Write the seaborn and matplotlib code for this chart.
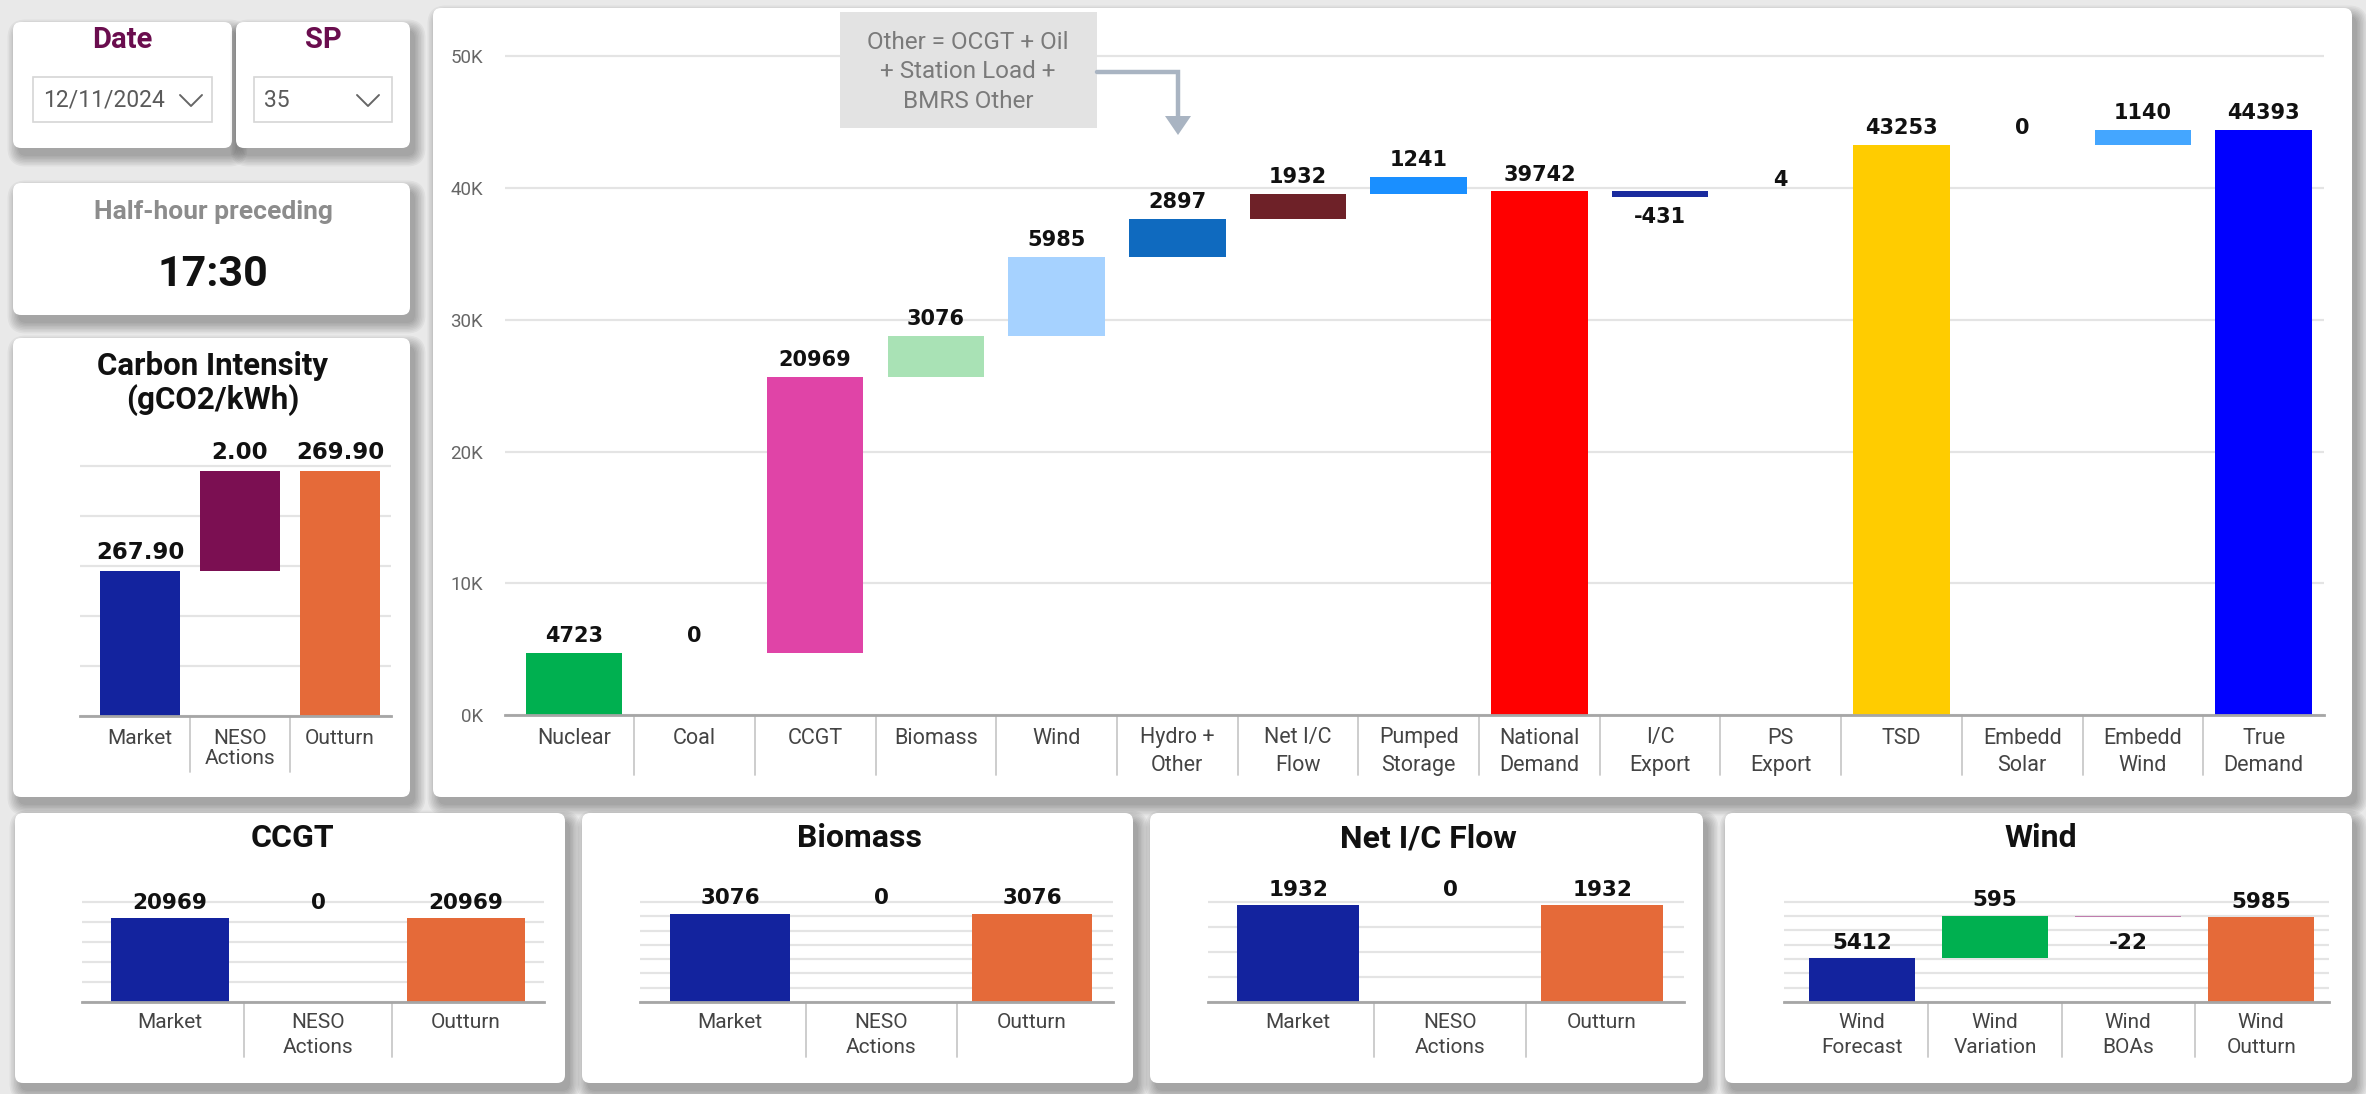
import numpy as np
import pandas as pd
import matplotlib
matplotlib.use("Agg")
import matplotlib.pyplot as plt
import matplotlib.transforms as mtransforms
from matplotlib.patches import FancyBboxPatch, Rectangle, Polygon
import seaborn as sns

sns.set_theme(style="white")
plt.rcParams["font.family"] = ["Roboto", "DejaVu Sans"]

W, H = 2366, 1094
DPI = 100

# ---------------- data ----------------
date_label = "12/11/2024"
sp_label = "35"
half_hour = "17:30"

gen_categories = ["Nuclear", "Coal", "CCGT", "Biomass", "Wind", "Hydro +\nOther",
                  "Net I/C\nFlow", "Pumped\nStorage", "National\nDemand", "I/C\nExport",
                  "PS\nExport", "TSD", "Embedd\nSolar", "Embedd\nWind", "True\nDemand"]
gen_values = [4723, 0, 20969, 3076, 5985, 2897, 1932, 1241, 39742, -431, 4, 43253, 0, 1140, 44393]
gen_is_total = [False, False, False, False, False, False, False, False, True,
                False, False, True, False, False, True]
gen_colors = ["#00b050", "#9e9e9e", "#e044a7", "#a9e2b5", "#a6d2ff", "#0f6abf",
              "#6e2128", "#1a8fff", "#ff0000", "#1a2b9e", "#dfe7f5", "#ffcc00",
              "#ffe066", "#44a6ff", "#0000ff"]

mo_categories = ["Market", "NESO\nActions", "Outturn"]
mo_is_total = [True, False, True]
mo_colors = ["#13239e", "#7b0f52", "#e56a39"]

ci_values = [267.90, 2.00, 269.90]
ccgt_values = [20969, 0, 20969]
biomass_values = [3076, 0, 3076]
ic_values = [1932, 0, 1932]

wind_categories = ["Wind\nForecast", "Wind\nVariation", "Wind\nBOAs", "Wind\nOutturn"]
wind_values = [5412, 595, -22, 5985]
wind_is_total = [True, False, False, True]
wind_colors = ["#13239e", "#00b050", "#c07cae", "#e56a39"]

annotation_lines = "Other = OCGT + Oil\n+ Station Load +\nBMRS Other"

# ---------------- figure ----------------
fig = plt.figure(figsize=(W / DPI, H / DPI), dpi=DPI, facecolor="#e9e9e9")


def px_axes(x0, y0, x1, y1, z):
    ax = fig.add_axes([x0 / W, 1 - y1 / H, (x1 - x0) / W, (y1 - y0) / H])
    ax.set_zorder(z)
    return ax


bg = px_axes(0, 0, W, H, 0)
bg.set_xlim(0, W)
bg.set_ylim(H, 0)
bg.axis("off")

fg = px_axes(0, 0, W, H, 20)
fg.set_xlim(0, W)
fg.set_ylim(H, 0)
fg.axis("off")
fg.patch.set_alpha(0)


def card(x0, y0, x1, y1):
    w, h = x1 - x0, y1 - y0
    for k in range(8):
        p = 1.5 * k
        bg.add_patch(FancyBboxPatch((x0 + 5 - p, y0 + 8 - p), w + 2 * p, h + 2 * p,
                                    boxstyle=f"round,pad=0,rounding_size={8 + p}",
                                    fc="black", ec="none", alpha=0.04))
    bg.add_patch(FancyBboxPatch((x0, y0), w, h, boxstyle="round,pad=0,rounding_size=8",
                                fc="white", ec="none"))


cards = {
    "date": (13, 22, 232, 148),
    "sp": (236, 22, 410, 148),
    "half": (13, 183, 410, 315),
    "carbon": (13, 338, 410, 797),
    "main": (433, 8, 2352, 797),
    "ccgt": (15, 813, 565, 1083),
    "biomass": (582, 813, 1133, 1083),
    "ic": (1150, 813, 1703, 1083),
    "wind": (1725, 813, 2352, 1083),
}
for c in cards.values():
    card(*c)

# ---- slicers ----
title_purple = "#6a0d4e"
bg.text(122, 40, "Date", ha="center", va="center", fontsize=21, fontweight="bold", color=title_purple)
bg.text(323, 40, "SP", ha="center", va="center", fontsize=21, fontweight="bold", color=title_purple)
for (x0, y0, x1, y1), txt, cx in [((33, 77, 212, 122), date_label, 191),
                                 ((254, 77, 392, 122), sp_label, 368)]:
    bg.add_patch(Rectangle((x0, y0), x1 - x0, y1 - y0, fc="white", ec="#d6d6d6", lw=1.2))
    bg.text(x0 + 10, (y0 + y1) / 2 + 1, txt, ha="left", va="center", fontsize=16.5, color="#5a5a5a")
    bg.plot([cx - 11, cx, cx + 11], [95, 106, 95], color="#666666", lw=1.4)

bg.text(213, 212, "Half-hour preceding", ha="center", va="center", fontsize=19,
        fontweight="bold", color="#8c8c8c")
bg.text(213, 275, half_hour, ha="center", va="center", fontsize=31, fontweight="bold", color="#111111")

# ---- panel titles ----
bg.text(213, 366, "Carbon Intensity", ha="center", va="center", fontsize=22.5, fontweight="bold", color="#111111")
bg.text(213, 400, "(gCO2/kWh)", ha="center", va="center", fontsize=22.5, fontweight="bold", color="#111111")
for key, title in [("ccgt", "CCGT"), ("biomass", "Biomass"), ("ic", "Net I/C Flow"), ("wind", "Wind")]:
    x0, y0, x1, y1 = cards[key]
    bg.text((x0 + x1) / 2 + 2, 838, title, ha="center", va="center", fontsize=23,
            fontweight="bold", color="#111111")


def waterfall_spans(values, is_total):
    bottoms, level = [], 0
    for v, tot in zip(values, is_total):
        if tot:
            bottoms.append(0)
            level = v
        else:
            bottoms.append(level)
            level += v
    return bottoms


def draw_waterfall(box, cats, values, is_total, colors, ylim, yticks, fmt,
                   label_size, tick_size, sep_px, xlim=None, label_gap=5, neg_gap=6,
                   tick_pad=6, linespacing=1.4, show_y=False, ytick_fmt=None):
    x0, y0, x1, y1 = box
    ax = px_axes(x0, y0, x1, y1, 5)
    ax.patch.set_alpha(0)
    bottoms = waterfall_spans(values, is_total)
    df = pd.DataFrame({"cat": cats, "h": values})
    sns.barplot(data=df, x="cat", y="h", hue="cat", order=cats, hue_order=cats,
                palette=dict(zip(cats, colors)), saturation=1, width=0.8,
                errorbar=None, legend=False, linewidth=0, ax=ax)
    for cont, b in zip(ax.containers, bottoms):
        for p in cont.patches:
            p.set_y(b)
    n = len(cats)
    ax.set_xlim(*(xlim if xlim else (-0.5, n - 0.5)))
    ax.set_ylim(*ylim)
    ax.set_yticks(yticks)
    ax.yaxis.grid(True, color="#e4e4e4", lw=1.6)
    ax.xaxis.grid(False)
    ax.set_axisbelow(True)
    for s in ["top", "right", "left"]:
        ax.spines[s].set_visible(False)
    ax.spines["bottom"].set_color("#a6a6a6")
    ax.spines["bottom"].set_linewidth(2)
    ax.set_xlabel("")
    ax.set_ylabel("")
    ax.set_xticks(range(n))
    ax.set_xticklabels(cats, fontsize=tick_size, color="#444444", linespacing=linespacing, va="top")
    ax.tick_params(axis="x", length=0, pad=tick_pad)
    ax.tick_params(axis="y", length=0)
    if show_y:
        ax.set_yticklabels([ytick_fmt(v) for v in yticks], fontsize=13.5, color="#666666")
        ax.tick_params(axis="y", pad=16)
    else:
        ax.set_yticklabels([])
    trans = mtransforms.blended_transform_factory(ax.transData, ax.transAxes)
    frac = sep_px / (y1 - y0)
    for k in range(1, n):
        ax.plot([k - 0.5, k - 0.5], [0, -frac], transform=trans, color="#c9c9c9",
                lw=1.3, clip_on=False)
    for i, (b, v) in enumerate(zip(bottoms, values)):
        if v < 0:
            ax.annotate(fmt(v), (i, b + v), xytext=(0, -neg_gap), textcoords="offset points",
                        ha="center", va="top", fontsize=label_size, fontweight="bold",
                        color="#111111", family="DejaVu Sans", annotation_clip=False)
        else:
            ax.annotate(fmt(v), (i, b + v), xytext=(0, label_gap), textcoords="offset points",
                        ha="center", va="bottom", fontsize=label_size, fontweight="bold",
                        color="#111111", family="DejaVu Sans", annotation_clip=False)
    return ax


int_fmt = lambda v: f"{v:.0f}"

# main generation waterfall
draw_waterfall((505, 30, 2324, 715), gen_categories, gen_values, gen_is_total, gen_colors,
               (0, 52000), np.arange(0, 50001, 10000), int_fmt, 15, 15.5, 60,
               xlim=(-0.57, 14.5), label_gap=5, neg_gap=7, tick_pad=9, linespacing=1.42,
               show_y=True, ytick_fmt=lambda v: f"{v / 1000:.0f}K")

# carbon intensity
draw_waterfall((80, 430, 391, 716), mo_categories, ci_values, mo_is_total, mo_colors,
               (265, 270.72), np.arange(265, 270.5, 1), lambda v: f"{v:.2f}", 16.5, 15, 56,
               xlim=(-0.6, 2.51), label_gap=5, tick_pad=9, linespacing=1.1)

# bottom panels
bottom_kw = dict(label_gap=4, tick_pad=8, linespacing=1.4)
draw_waterfall((82, 880, 544, 1002), mo_categories, ccgt_values, mo_is_total, mo_colors,
               (0, 30500), np.arange(0, 25001, 5000), int_fmt, 15.5, 15, 55,
               xlim=(-0.595, 2.527), **bottom_kw)
draw_waterfall((640, 880, 1113, 1002), mo_categories, biomass_values, mo_is_total, mo_colors,
               (0, 4266), np.arange(0, 3501, 500), int_fmt, 15.5, 15, 55,
               xlim=(-0.596, 2.536), **bottom_kw)
draw_waterfall((1208, 880, 1684, 1002), mo_categories, ic_values, mo_is_total, mo_colors,
               (0, 2440), np.arange(0, 2001, 500), int_fmt, 15.5, 15, 55,
               xlim=(-0.592, 2.539), **bottom_kw)
draw_waterfall((1784, 880, 2329, 1002), wind_categories, wind_values, wind_is_total, wind_colors,
               (4800, 6506), np.arange(4800, 6201, 200), int_fmt, 15.5, 15, 55,
               xlim=(-0.586, 3.51), neg_gap=11, **bottom_kw)

# ---- note box with arrow ----
fg.add_patch(Rectangle((840, 12), 257, 116, fc="#e3e3e3", ec="none"))
fg.text(968, 72, annotation_lines, ha="center", va="center", fontsize=17.5,
        color="#7a7a7a", linespacing=1.38)
arrow_c = "#a9b4c2"
fg.plot([1097, 1178, 1178], [72, 72, 118], color=arrow_c, lw=3.2, solid_joinstyle="miter")
fg.add_patch(Polygon([[1165, 116], [1191, 116], [1178, 135]], closed=True, fc=arrow_c, ec="none"))

fig.savefig("out.png", dpi=DPI, facecolor=fig.get_facecolor())
